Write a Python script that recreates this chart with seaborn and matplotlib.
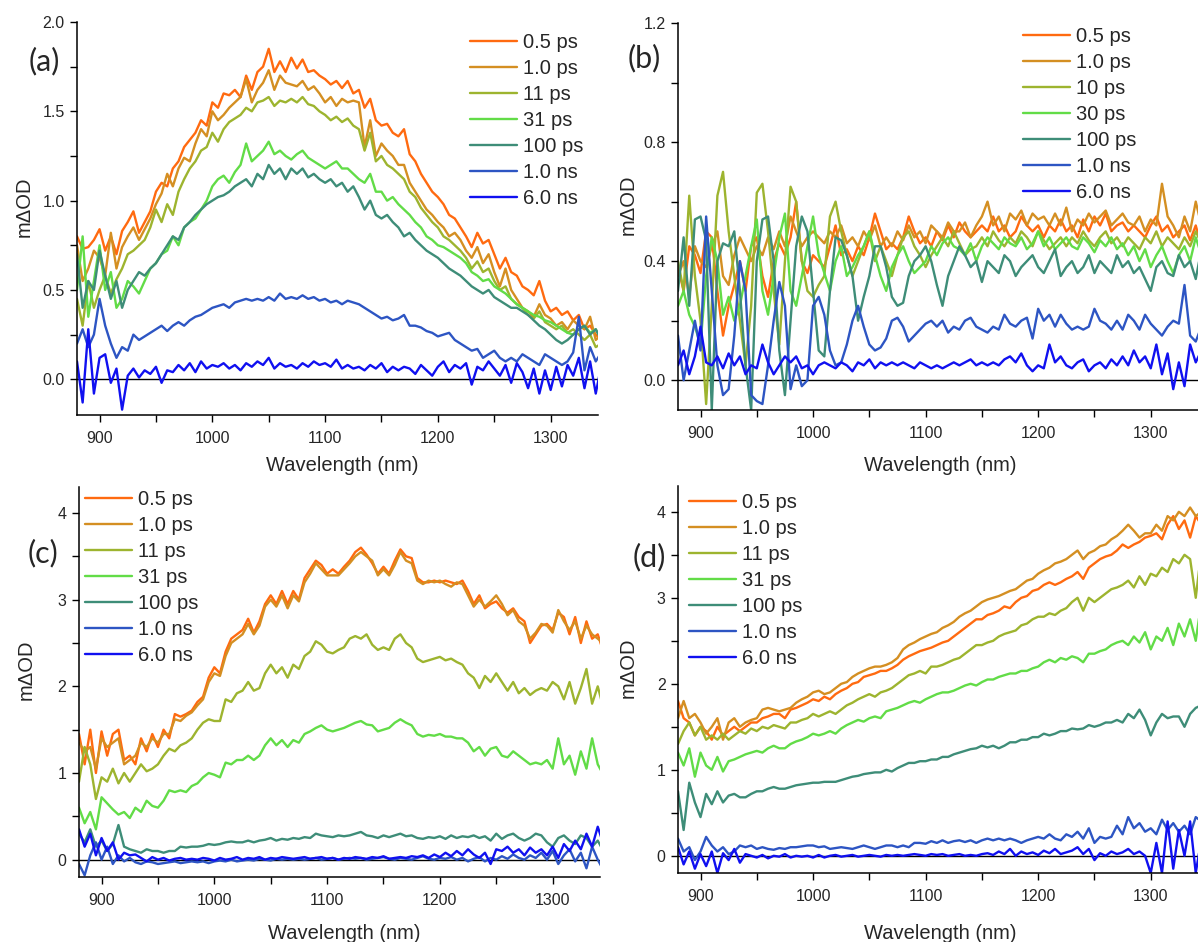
import numpy as np
import matplotlib
matplotlib.use("Agg")
import matplotlib.pyplot as plt
from matplotlib.ticker import MultipleLocator
import seaborn as sns

# wavelength grid (nm)
WL = np.arange(880, 1351, 5)

labels_acd = ["0.5 ps", "1.0 ps", "11 ps", "31 ps", "100 ps", "1.0 ns", "6.0 ns"]
labels_b = ["0.5 ps", "1.0 ps", "10 ps", "30 ps", "100 ps", "1.0 ns", "6.0 ns"]
colors = ["#FF6A10", "#D48F22", "#9DB42F", "#62DC47", "#3E8D78", "#2D55C3", "#1010F0"]

# ---- panel (a) ----
a_05 = [.80, .73, .74, .78, .84, .72, .80, .70, .83, .88,
        .94, .82, .88, .94, 1.05, 1.10, 1.08, 1.18, 1.22, 1.30,
        1.34, 1.38, 1.45, 1.42, 1.55, 1.52, 1.60, 1.59, 1.62, 1.58,
        1.70, 1.62, 1.72, 1.75, 1.85, 1.72, 1.78, 1.72, 1.80, 1.74,
        1.79, 1.72, 1.73, 1.70, 1.68, 1.65, 1.67, 1.63, 1.67, 1.60,
        1.62, 1.52, 1.57, 1.45, 1.42, 1.43, 1.38, 1.36, 1.40, 1.26,
        1.22, 1.15, 1.10, 1.05, 1.02, .98, .92, .90, .85, .80,
        .74, .82, .76, .78, .70, .62, .68, .60, .58, .52,
        .50, .47, .55, .44, .38, .40, .36, .38, .33, .36,
        .28, .30, .25, .22, .18]
a_10 = [.75, .55, .62, .72, .68, .58, .82, .62, .74, .80,
        .85, .78, .84, .90, .98, 1.04, 1.15, 1.08, 1.18, 1.24,
        1.22, 1.32, 1.40, 1.36, 1.50, 1.45, 1.48, 1.52, 1.55, 1.58,
        1.68, 1.55, 1.62, 1.66, 1.73, 1.62, 1.70, 1.66, 1.65, 1.64,
        1.67, 1.62, 1.64, 1.60, 1.55, 1.58, 1.53, 1.57, 1.55, 1.56,
        1.55, 1.30, 1.45, 1.25, 1.32, 1.28, 1.25, 1.20, 1.20, 1.10,
        1.05, 1.00, .95, .92, .88, .85, .80, .82, .78, .72,
        .68, .74, .65, .70, .60, .52, .62, .50, .45, .40,
        .38, .35, .42, .36, .34, .30, .32, .28, .33, .30,
        .28, .35, .22, .25, .20]
a_11 = [.45, .30, .55, .40, .50, .58, .48, .56, .62, .70,
        .72, .75, .78, .85, .95, .88, .98, .92, 1.05, 1.12,
        1.18, 1.22, 1.28, 1.30, 1.38, 1.33, 1.40, 1.44, 1.46, 1.48,
        1.52, 1.50, 1.55, 1.56, 1.58, 1.53, 1.56, 1.55, 1.57, 1.55,
        1.58, 1.54, 1.53, 1.50, 1.48, 1.45, 1.47, 1.44, 1.46, 1.42,
        1.40, 1.28, 1.38, 1.22, 1.25, 1.20, 1.18, 1.15, 1.12, 1.05,
        1.02, .96, .92, .88, .85, .80, .78, .75, .72, .68,
        .62, .66, .60, .62, .55, .50, .52, .45, .42, .40,
        .36, .34, .38, .32, .30, .28, .30, .26, .28, .25,
        .22, .25, .18, .20, .15]
a_31 = [.50, .80, .35, .55, .75, .50, .60, .40, .45, .55,
        .52, .48, .55, .62, .65, .70, .72, .80, .75, .85,
        .88, .90, .95, 1.00, 1.08, 1.12, 1.14, 1.10, 1.16, 1.20,
        1.32, 1.22, 1.25, 1.28, 1.33, 1.26, 1.28, 1.25, 1.23, 1.26,
        1.28, 1.24, 1.22, 1.20, 1.18, 1.20, 1.22, 1.18, 1.18, 1.15,
        1.12, 1.10, 1.15, 1.05, 1.05, 1.00, 1.02, .98, .95, .92,
        .88, .85, .80, .78, .75, .74, .72, .70, .68, .65,
        .60, .58, .55, .56, .52, .50, .48, .45, .42, .40,
        .38, .36, .35, .33, .32, .30, .28, .26, .25, .28,
        .30, .26, .28, .22, .30]
a_100 = [.70, .40, .55, .50, .72, .58, .45, .55, .40, .50,
         .55, .60, .58, .62, .65, .70, .75, .80, .78, .85,
         .88, .92, .95, .98, 1.00, 1.02, 1.03, 1.05, 1.08, 1.10,
         1.12, 1.08, 1.15, 1.12, 1.20, 1.15, 1.18, 1.12, 1.18, 1.15,
         1.18, 1.13, 1.15, 1.12, 1.10, 1.12, 1.08, 1.10, 1.05, 1.08,
         1.02, .95, 1.00, .92, .90, .92, .88, .85, .80, .82,
         .78, .75, .72, .70, .68, .65, .62, .60, .58, .55,
         .52, .50, .48, .50, .46, .44, .42, .40, .40, .38,
         .36, .33, .30, .28, .25, .22, .20, .22, .25, .28,
         .30, .25, .28, .22, .20]
a_1n = [.20, .28, .18, .25, .45, .30, .20, .12, .18, .16,
        .25, .22, .24, .26, .28, .30, .27, .30, .32, .30,
        .33, .35, .36, .38, .40, .41, .42, .40, .43, .44,
        .45, .44, .45, .44, .46, .44, .48, .45, .46, .45,
        .47, .45, .46, .44, .45, .43, .44, .42, .44, .43,
        .42, .40, .38, .36, .34, .35, .33, .34, .36, .30,
        .30, .29, .27, .26, .24, .25, .26, .22, .20, .18,
        .16, .17, .12, .14, .16, .12, .10, .12, .10, .14,
        .12, .10, .08, .14, .12, .10, .08, .10, .15, .35,
        .05, .18, .10, .15, .20]
a_6n = [.10, -.13, .28, -.08, .12, .14, -.02, .06, -.17, .02,
        .06, .01, .05, .03, .07, -.02, .05, .04, .08, .05,
        .09, .04, .10, .06, .08, .07, .09, .06, .08, .05,
        .09, .07, .10, .08, .12, .06, .09, .07, .08, .06,
        .09, .07, .10, .08, .09, .07, .11, .06, .08, .06,
        .07, .05, .08, .06, .09, .04, .07, .05, .07, .06,
        .03, .08, .05, .02, .07, .10, .04, .08, .06, .09,
        -.03, .07, .05, .10, .06, .02, .08, -.02, .09, .04,
        -.05, .06, -.08, .05, -.06, .07, -.04, .08, .02, .12,
        -.05, .10, -.08, .08, -.12]

# ---- panel (b) ----
b_05 = [.38, .30, .45, .42, .36, .50, .48, .30, .15, .25,
        .32, .40, .30, .45, .48, .35, .28, .40, .46, .42,
        .48, .60, .40, .36, .42, .40, .38, .45, .52, .42,
        .44, .40, .45, .42, .48, .56, .50, .44, .46, .44,
        .48, .55, .50, .46, .48, .45, .50, .47, .52, .48,
        .53, .50, .48, .50, .52, .50, .55, .50, .52, .48,
        .50, .55, .52, .50, .52, .48, .52, .50, .54, .50,
        .52, .48, .54, .50, .55, .52, .56, .50, .52, .53,
        .50, .52, .50, .48, .52, .55, .50, .52, .48, .50,
        .52, .47, .52, .45, .55]
b_10 = [.35, .40, .28, .45, .40, .38, .45, .50, .35, .32,
        .42, .48, .44, .40, .45, .42, .48, .44, .50, .45,
        .55, .50, .45, .48, .50, .48, .46, .50, .48, .52,
        .46, .48, .45, .50, .47, .52, .45, .48, .45, .50,
        .47, .52, .48, .50, .46, .52, .50, .48, .53, .50,
        .50, .53, .48, .52, .55, .60, .52, .55, .50, .56,
        .54, .57, .52, .56, .54, .55, .52, .56, .52, .58,
        .50, .54, .52, .56, .53, .55, .57, .52, .54, .56,
        .53, .52, .55, .50, .54, .52, .66, .55, .52, .48,
        .55, .50, .60, .52, .62]
b_10p = [.40, .30, .62, .35, .20, -.08, .25, .62, .70, .50,
         .35, .20, .05, .25, .63, .66, .50, .30, .12, .40,
         .65, .60, .40, .30, .28, .32, .35, .55, .60, .50,
         .42, .35, .40, .45, .50, .40, .45, .40, .35, .42,
         .48, .50, .45, .42, .38, .42, .45, .48, .45, .50,
         .46, .42, .44, .45, .48, .45, .50, .47, .45, .48,
         .46, .50, .48, .45, .50, .47, .44, .46, .48, .45,
         .48, .46, .50, .47, .45, .48, .50, .46, .48, .45,
         .48, .46, .44, .48, .46, .50, .45, .48, .46, .44,
         .48, .45, .50, .46, .52]
b_30 = [.25, .30, .22, .18, .12, .35, .48, .40, .22, .28,
        .20, .25, .35, .45, .54, .30, .22, .35, .48, .56,
        .30, .25, .35, .45, .55, .42, .36, .30, .40, .45,
        .35, .38, .42, .45, .50, .42, .35, .30, .38, .42,
        .45, .40, .36, .38, .40, .45, .42, .46, .48, .45,
        .44, .42, .46, .40, .45, .48, .46, .44, .48, .46,
        .45, .48, .44, .46, .50, .45, .48, .44, .46, .48,
        .45, .44, .48, .46, .43, .47, .45, .48, .44, .46,
        .42, .45, .40, .44, .38, .42, .45, .40, .36, .42,
        .45, .40, .48, .42, .50]
b_100 = [.30, .48, .25, .54, .55, .47, -.10, .40, .46, .45,
         .50, .30, .05, -.10, .40, .54, .55, .40, .10, -.05,
         .20, .45, .55, .50, .30, .10, .08, .30, .48, .47,
         .42, .35, .20, .28, .35, .45, .45, .38, .28, .25,
         .26, .35, .40, .42, .45, .40, .32, .25, .35, .40,
         .45, .42, .38, .40, .33, .40, .38, .36, .42, .40,
         .35, .38, .40, .42, .38, .36, .40, .44, .35, .38,
         .40, .36, .38, .42, .36, .40, .38, .36, .42, .38,
         .40, .36, .38, .34, .30, .38, .40, .36, .35, .42,
         .38, .40, .34, .44, .38]
b_1n = [.15, .00, .10, .20, .10, .55, .30, .05, -.05, -.03,
        .15, .40, .30, -.05, -.07, -.08, .05, .20, .33, .25,
        -.03, .05, -.02, .00, .25, .28, .22, .10, .05, .06,
        .12, .20, .25, .18, .12, .10, .11, .14, .20, .21,
        .18, .13, .15, .17, .19, .20, .18, .20, .16, .18,
        .17, .20, .21, .18, .17, .16, .18, .17, .22, .19,
        .18, .20, .21, .14, .24, .20, .22, .18, .22, .19,
        .17, .18, .17, .18, .24, .20, .19, .17, .20, .17,
        .22, .20, .17, .22, .19, .17, .15, .18, .20, .19,
        .32, .15, .13, .18, .16]
b_6n = [.05, .10, .02, .08, .18, .06, .05, .08, .04, .09,
        .05, .08, .02, .05, .04, .12, .06, .02, .05, .08,
        .06, .08, .04, .05, .02, .05, .06, .05, .04, .06,
        .05, .03, .06, .05, .07, .04, .06, .05, .06, .05,
        .06, .05, .04, .06, .05, .04, .05, .04, .05, .06,
        .05, .06, .07, .05, .06, .05, .06, .05, .07, .08,
        .06, .09, .05, .03, .05, .04, .12, .06, .08, .05,
        .04, .06, .07, .03, .05, .06, .04, .07, .05, .08,
        .05, .10, .06, .08, .04, .12, .02, .09, -.03, .06,
        -.02, .12, .06, .10, .08]

# ---- panel (c) ----
c_05 = [1.45, 1.10, 1.50, 1.00, 1.48, 1.20, 1.45, 1.50, 1.15, 1.20,
        1.10, 1.40, 1.25, 1.45, 1.30, 1.50, 1.40, 1.68, 1.65, 1.68,
        1.72, 1.82, 1.88, 2.10, 2.22, 2.15, 2.40, 2.55, 2.60, 2.65,
        2.78, 2.62, 2.75, 2.95, 3.05, 2.95, 3.10, 2.95, 3.10, 3.00,
        3.25, 3.35, 3.45, 3.40, 3.30, 3.35, 3.30, 3.38, 3.45, 3.55,
        3.60, 3.52, 3.42, 3.30, 3.38, 3.30, 3.45, 3.58, 3.50, 3.48,
        3.25, 3.20, 3.20, 3.22, 3.20, 3.22, 3.20, 3.18, 3.22, 3.10,
        2.95, 3.05, 2.90, 2.95, 2.98, 2.90, 2.85, 2.90, 2.80, 2.75,
        2.50, 2.60, 2.70, 2.72, 2.65, 2.85, 2.80, 2.60, 2.80, 2.50,
        2.75, 2.55, 2.60, 2.40, 2.70]
c_10 = [1.35, 1.25, 1.30, 1.05, 1.40, 1.30, 1.35, 1.40, 1.10, 1.15,
        1.20, 1.35, 1.30, 1.40, 1.35, 1.45, 1.45, 1.62, 1.60, 1.66,
        1.70, 1.78, 1.85, 2.05, 2.15, 2.12, 2.35, 2.50, 2.55, 2.60,
        2.72, 2.60, 2.70, 2.92, 3.00, 2.92, 3.05, 2.90, 3.05, 2.98,
        3.20, 3.30, 3.42, 3.35, 3.28, 3.28, 3.28, 3.35, 3.42, 3.50,
        3.55, 3.50, 3.45, 3.28, 3.35, 3.28, 3.40, 3.55, 3.45, 3.42,
        3.22, 3.18, 3.22, 3.20, 3.22, 3.18, 3.15, 3.20, 3.18, 3.05,
        2.92, 3.00, 2.92, 2.98, 3.05, 2.95, 2.82, 2.88, 2.75, 2.70,
        2.55, 2.62, 2.72, 2.70, 2.62, 2.88, 2.75, 2.65, 2.75, 2.55,
        2.70, 2.60, 2.55, 2.50, 2.65]
c_11 = [0.90, 1.30, 1.10, 0.70, 0.95, 0.90, 1.05, 0.88, 1.00, 0.90,
        1.00, 1.10, 1.02, 1.05, 1.10, 1.20, 1.28, 1.25, 1.32, 1.35,
        1.40, 1.50, 1.58, 1.62, 1.60, 1.60, 1.85, 1.82, 1.92, 1.95,
        2.05, 1.95, 1.98, 2.15, 2.25, 2.15, 2.22, 2.10, 2.25, 2.20,
        2.35, 2.40, 2.52, 2.48, 2.40, 2.38, 2.42, 2.45, 2.55, 2.58,
        2.55, 2.60, 2.48, 2.42, 2.45, 2.42, 2.55, 2.60, 2.50, 2.45,
        2.32, 2.28, 2.30, 2.32, 2.34, 2.30, 2.32, 2.28, 2.25, 2.15,
        2.10, 1.98, 2.12, 2.05, 2.15, 2.05, 1.95, 2.05, 1.92, 1.98,
        1.90, 1.95, 1.98, 1.95, 2.05, 2.00, 1.85, 2.05, 1.80, 1.98,
        2.20, 1.80, 2.00, 1.75, 1.95]
c_31 = [0.60, 0.42, 0.55, 0.35, 0.72, 0.65, 0.58, 0.52, 0.55, 0.48,
        0.60, 0.55, 0.68, 0.62, 0.60, 0.68, 0.80, 0.78, 0.80, 0.78,
        0.85, 0.88, 0.95, 1.00, 0.98, 0.95, 1.12, 1.10, 1.15, 1.15,
        1.20, 1.15, 1.20, 1.32, 1.40, 1.32, 1.38, 1.30, 1.38, 1.35,
        1.45, 1.48, 1.52, 1.55, 1.50, 1.48, 1.50, 1.52, 1.55, 1.58,
        1.60, 1.56, 1.55, 1.48, 1.50, 1.52, 1.58, 1.62, 1.58, 1.55,
        1.45, 1.42, 1.44, 1.43, 1.45, 1.42, 1.42, 1.40, 1.40, 1.35,
        1.25, 1.30, 1.20, 1.28, 1.30, 1.20, 1.18, 1.25, 1.20, 1.15,
        1.10, 1.12, 1.10, 1.15, 1.05, 1.40, 1.10, 1.20, 0.98, 1.25,
        1.05, 1.40, 1.10, 0.98, 1.10]
c_100 = [0.30, 0.20, 0.35, 0.15, 0.22, 0.10, 0.18, 0.40, 0.15, 0.12,
         0.10, 0.08, 0.12, 0.10, 0.10, 0.08, 0.10, 0.10, 0.15, 0.14,
         0.15, 0.15, 0.16, 0.18, 0.17, 0.18, 0.20, 0.21, 0.20, 0.20,
         0.22, 0.20, 0.22, 0.23, 0.25, 0.22, 0.24, 0.23, 0.25, 0.24,
         0.26, 0.25, 0.30, 0.28, 0.27, 0.26, 0.28, 0.27, 0.28, 0.30,
         0.32, 0.28, 0.27, 0.25, 0.28, 0.26, 0.28, 0.30, 0.27, 0.28,
         0.25, 0.24, 0.26, 0.25, 0.27, 0.24, 0.28, 0.25, 0.27, 0.26,
         0.28, 0.25, 0.27, 0.22, 0.30, 0.24, 0.28, 0.30, 0.25, 0.22,
         0.25, 0.30, 0.28, 0.20, 0.15, 0.25, 0.28, 0.22, 0.18, 0.28,
         0.25, 0.15, 0.22, 0.10, 0.20]
c_1n = [-0.05, -0.18, 0.05, 0.20, 0.00, 0.15, -0.05, 0.05, -0.02, 0.02,
        -0.03, -0.05, -0.02, -0.03, -0.05, -0.04, -0.03, -0.02, -0.04, -0.03,
        -0.02, -0.03, -0.02, -0.04, -0.02, -0.01, -0.02, 0.00, -0.02, -0.01,
        0.00, -0.01, 0.01, 0.00, -0.01, 0.01, 0.00, 0.01, 0.00, 0.01,
        0.00, 0.01, 0.02, 0.00, 0.01, 0.02, 0.00, 0.01, 0.02, 0.01,
        0.02, 0.00, 0.01, 0.02, 0.03, 0.01, 0.00, 0.02, 0.01, 0.00,
        0.02, 0.04, 0.01, 0.00, 0.02, 0.01, 0.03, 0.00, 0.02, -0.02,
        0.01, 0.03, -0.02, 0.02, 0.00, 0.04, 0.01, 0.06, 0.02, 0.00,
        0.05, 0.02, 0.08, 0.00, 0.10, -0.05, 0.05, 0.12, -0.02, 0.08,
        -0.10, 0.15, 0.00, -0.12, 0.05]
c_6n = [0.35, 0.15, 0.30, 0.05, 0.25, 0.10, 0.20, 0.00, 0.08, 0.05,
        0.06, 0.02, -0.02, 0.03, 0.00, 0.02, -0.01, 0.01, 0.02, 0.00,
        0.01, 0.00, 0.02, 0.01, -0.01, 0.02, 0.00, 0.01, 0.03, 0.00,
        0.02, 0.01, 0.03, 0.00, 0.02, 0.01, 0.03, 0.02, 0.01, 0.02,
        0.03, 0.01, 0.02, 0.03, 0.01, 0.02, 0.00, 0.02, 0.01, 0.03,
        0.02, 0.01, 0.03, 0.02, 0.04, 0.01, 0.02, 0.03, 0.02, 0.04,
        0.03, 0.05, 0.02, 0.06, 0.03, 0.08, 0.04, 0.10, 0.05, 0.12,
        0.06, 0.02, 0.08, -0.05, 0.12, 0.10, 0.15, 0.08, 0.12, 0.05,
        0.14, 0.08, 0.12, 0.05, 0.15, 0.02, 0.18, 0.10, 0.22, 0.12,
        0.30, 0.15, 0.38, 0.18, 0.25]

# ---- panel (d) ----
d_05 = [1.80, 1.60, 1.55, 1.40, 1.50, 1.45, 1.35, 1.50, 1.40, 1.45,
        1.50, 1.45, 1.50, 1.55, 1.55, 1.60, 1.62, 1.65, 1.65, 1.60,
        1.70, 1.72, 1.75, 1.78, 1.82, 1.80, 1.85, 1.82, 1.88, 1.92,
        1.95, 2.00, 2.02, 2.08, 2.10, 2.12, 2.15, 2.15, 2.18, 2.22,
        2.28, 2.32, 2.35, 2.38, 2.40, 2.42, 2.45, 2.48, 2.50, 2.55,
        2.60, 2.65, 2.70, 2.75, 2.75, 2.80, 2.82, 2.85, 2.90, 2.88,
        2.95, 3.00, 3.02, 3.08, 3.10, 3.15, 3.18, 3.15, 3.18, 3.22,
        3.25, 3.30, 3.22, 3.35, 3.40, 3.45, 3.48, 3.50, 3.55, 3.62,
        3.58, 3.62, 3.65, 3.70, 3.72, 3.75, 3.68, 3.85, 3.95, 3.80,
        3.90, 3.70, 3.95, 3.85, 4.20]
d_10 = [1.60, 1.80, 1.60, 1.65, 1.55, 1.42, 1.50, 1.60, 1.35, 1.55,
        1.60, 1.50, 1.55, 1.58, 1.60, 1.70, 1.72, 1.70, 1.68, 1.70,
        1.72, 1.78, 1.82, 1.85, 1.90, 1.92, 1.88, 1.90, 1.95, 2.00,
        2.02, 2.08, 2.12, 2.15, 2.18, 2.20, 2.20, 2.22, 2.25, 2.30,
        2.40, 2.45, 2.48, 2.52, 2.55, 2.58, 2.60, 2.65, 2.68, 2.72,
        2.78, 2.82, 2.85, 2.90, 2.95, 2.98, 3.00, 3.02, 3.05, 3.08,
        3.10, 3.15, 3.20, 3.22, 3.28, 3.32, 3.35, 3.40, 3.42, 3.45,
        3.50, 3.55, 3.45, 3.52, 3.55, 3.60, 3.62, 3.68, 3.72, 3.78,
        3.85, 3.78, 3.70, 3.75, 3.75, 3.85, 3.78, 3.95, 3.90, 4.00,
        3.95, 4.05, 3.95, 4.00, 4.15]
d_11 = [1.30, 1.45, 1.55, 1.40, 1.50, 1.35, 1.40, 1.35, 1.42, 1.35,
        1.40, 1.45, 1.42, 1.48, 1.45, 1.50, 1.48, 1.52, 1.50, 1.48,
        1.55, 1.55, 1.58, 1.60, 1.65, 1.62, 1.65, 1.68, 1.65, 1.70,
        1.75, 1.78, 1.82, 1.85, 1.88, 1.85, 1.90, 1.92, 1.95, 2.00,
        2.05, 2.10, 2.12, 2.15, 2.12, 2.20, 2.20, 2.22, 2.25, 2.28,
        2.30, 2.35, 2.40, 2.45, 2.45, 2.48, 2.50, 2.55, 2.58, 2.60,
        2.62, 2.68, 2.70, 2.75, 2.78, 2.78, 2.82, 2.80, 2.85, 2.88,
        2.95, 3.00, 2.85, 3.00, 2.95, 3.00, 3.05, 3.10, 3.12, 3.15,
        3.20, 3.12, 3.25, 3.15, 3.28, 3.25, 3.35, 3.30, 3.45, 3.40,
        3.50, 3.45, 3.00, 3.55, 3.65]
d_31 = [1.20, 1.05, 1.25, 0.92, 1.20, 1.05, 1.00, 1.15, 0.98, 1.10,
        1.12, 1.15, 1.18, 1.20, 1.22, 1.20, 1.25, 1.28, 1.25, 1.25,
        1.30, 1.33, 1.35, 1.38, 1.42, 1.40, 1.42, 1.45, 1.42, 1.48,
        1.52, 1.55, 1.58, 1.56, 1.60, 1.62, 1.60, 1.68, 1.70, 1.72,
        1.75, 1.78, 1.80, 1.78, 1.82, 1.85, 1.88, 1.90, 1.90, 1.92,
        1.95, 1.98, 2.00, 1.98, 2.02, 2.05, 2.05, 2.08, 2.10, 2.12,
        2.12, 2.15, 2.15, 2.18, 2.20, 2.25, 2.28, 2.25, 2.30, 2.28,
        2.32, 2.30, 2.25, 2.35, 2.35, 2.38, 2.40, 2.45, 2.48, 2.50,
        2.45, 2.55, 2.48, 2.60, 2.40, 2.55, 2.50, 2.65, 2.45, 2.70,
        2.55, 2.75, 2.50, 2.95, 2.75]
d_100 = [0.75, 0.30, 0.85, 0.62, 0.45, 0.72, 0.60, 0.75, 0.62, 0.70,
         0.72, 0.68, 0.68, 0.72, 0.75, 0.75, 0.78, 0.80, 0.78, 0.78,
         0.80, 0.82, 0.83, 0.84, 0.85, 0.85, 0.86, 0.86, 0.86, 0.88,
         0.90, 0.92, 0.93, 0.95, 0.96, 0.97, 0.97, 1.00, 0.98, 1.02,
         1.05, 1.08, 1.08, 1.10, 1.10, 1.12, 1.12, 1.15, 1.15, 1.18,
         1.20, 1.22, 1.24, 1.25, 1.28, 1.26, 1.28, 1.25, 1.28, 1.32,
         1.32, 1.35, 1.35, 1.38, 1.38, 1.42, 1.40, 1.42, 1.45, 1.45,
         1.48, 1.47, 1.48, 1.52, 1.50, 1.52, 1.55, 1.55, 1.58, 1.55,
         1.65, 1.60, 1.70, 1.58, 1.40, 1.55, 1.65, 1.60, 1.62, 1.62,
         1.50, 1.65, 1.72, 1.75, 1.82]
d_1n = [0.20, 0.05, 0.10, -0.05, 0.05, 0.22, 0.12, 0.05, 0.10, 0.02,
        0.05, 0.12, 0.10, 0.12, 0.08, 0.10, 0.08, 0.07, 0.09, 0.08,
        0.10, 0.10, 0.11, 0.12, 0.12, 0.10, 0.11, 0.08, 0.09, 0.10,
        0.09, 0.08, 0.10, 0.12, 0.10, 0.08, 0.10, 0.12, 0.12, 0.10,
        0.12, 0.10, 0.15, 0.15, 0.14, 0.17, 0.15, 0.18, 0.15, 0.17,
        0.18, 0.16, 0.18, 0.15, 0.18, 0.20, 0.18, 0.20, 0.18, 0.20,
        0.18, 0.15, 0.18, 0.20, 0.22, 0.20, 0.25, 0.20, 0.18, 0.25,
        0.22, 0.28, 0.20, 0.32, 0.15, 0.22, 0.20, 0.22, 0.35, 0.25,
        0.45, 0.32, 0.38, 0.28, 0.32, 0.25, 0.42, 0.30, 0.38, 0.28,
        0.35, 0.25, 0.45, 0.40, 0.58]
d_6n = [0.10, -0.10, 0.05, -0.15, 0.02, -0.12, 0.05, -0.20, 0.03, -0.05,
        0.08, -0.08, 0.02, 0.00, -0.02, 0.01, -0.03, 0.00, -0.01, 0.02,
        -0.02, 0.00, -0.01, 0.00, -0.02, 0.01, -0.02, 0.00, 0.01, -0.01,
        0.00, 0.01, -0.01, 0.00, 0.01, 0.00, -0.01, 0.01, 0.00, 0.01,
        0.00, 0.01, 0.02, 0.01, 0.00, 0.02, 0.01, 0.02, 0.00, 0.01,
        0.02, 0.00, 0.01, 0.00, 0.02, 0.03, 0.01, 0.05, 0.02, 0.08,
        0.00, 0.05, 0.02, 0.04, 0.01, 0.06, 0.03, 0.08, 0.02, 0.04,
        0.06, 0.10, 0.02, 0.08, -0.05, 0.03, 0.00, 0.05, 0.02, 0.04,
        0.08, 0.02, 0.05, 0.00, -0.20, 0.15, -0.20, 0.40, -0.15, 0.30,
        0.00, 0.40, -0.20, 0.20, 0.30]

sns.set_style("ticks")
plt.rcParams["font.family"] = ["Liberation Sans", "DejaVu Sans"]

W, H = 1198, 942
fig = plt.figure(figsize=(W / 100, H / 100), dpi=100)

# (tag, series, labels, axes box px (l, t, r, b), ylim, major, minor,
#  legend anchor px, tag pos px, ylabel pos px, xlabel pos px)
panels = [
    ("(a)", [a_05, a_10, a_11, a_31, a_100, a_1n, a_6n], labels_acd,
     (77, 22, 598, 415), (-0.2, 2.0), 0.5, 0.25, (470, 33), (44, 61), (34, 207), (342, 456)),
    ("(b)", [b_05, b_10, b_10p, b_30, b_100, b_1n, b_6n], labels_b,
     (678, 23, 1198, 410), (-0.1, 1.2), 0.4, 0.2, (1023, 27), (644, 58), (638, 205), (940, 456)),
    ("(c)", [c_05, c_10, c_11, c_31, c_100, c_1n, c_6n], labels_acd,
     (79, 487, 600, 877), (-0.2, 4.3), 1, 0.5, (85, 490), (43, 553), (36, 670), (344, 924)),
    ("(d)", [d_05, d_10, d_11, d_31, d_100, d_1n, d_6n], labels_b[:2] + labels_acd[2:],
     (678, 486, 1198, 873), (-0.2, 4.3), 1, 0.5, (689, 493), (649, 557), (638, 668), (940, 924)),
]

for tag, series, labs, box, ylim, major, minor, leg_xy, tag_xy, yl_xy, xl_xy in panels:
    l, t, r, b = box
    ax = fig.add_axes([l / W, 1 - b / H, (r - l) / W, (b - t) / H])
    ax.axhline(0, color="black", lw=1.0, zorder=1.5)
    for vals, lab, col in zip(series, labs, colors):
        sns.lineplot(x=WL[:len(vals)], y=vals, color=col, lw=1.7, label=lab, ax=ax)

    ax.set_xlim(880, 1342)
    ax.set_ylim(*ylim)
    ax.xaxis.set_major_locator(MultipleLocator(100))
    ax.xaxis.set_minor_locator(MultipleLocator(50))
    ax.yaxis.set_major_locator(MultipleLocator(major))
    ax.yaxis.set_minor_locator(MultipleLocator(minor))
    sns.despine(ax=ax)
    for side in ("left", "bottom"):
        ax.spines[side].set_linewidth(1.1)
        ax.spines[side].set_color("black")
    ax.tick_params(which="both", direction="out", length=5, width=1.0,
                   color="black", labelsize=11.5, labelcolor="#262626")
    ax.tick_params(axis="x", which="both", pad=6.5)
    ax.tick_params(axis="y", which="both", pad=4)

    ax.set_xlabel("Wavelength (nm)", fontsize=14.5)
    ax.set_ylabel("mΔOD", fontsize=14.5)
    ax.xaxis.set_label_coords(xl_xy[0] / W, 1 - xl_xy[1] / H, transform=fig.transFigure)
    ax.yaxis.set_label_coords(yl_xy[0] / W, 1 - yl_xy[1] / H, transform=fig.transFigure)

    handles, names = ax.get_legend_handles_labels()
    ax.legend(handles, names, loc="upper left",
              bbox_to_anchor=(leg_xy[0] / W, 1 - leg_xy[1] / H),
              bbox_transform=fig.transFigure, frameon=False, borderpad=0,
              borderaxespad=0, handlelength=2.35, handletextpad=0.3,
              labelspacing=0.35, fontsize=14.5)

    fig.text(tag_xy[0] / W, 1 - tag_xy[1] / H, tag, fontsize=22,
             family=["Lato", "DejaVu Sans"], ha="center", va="center")

fig.savefig("out.png", dpi=100)
